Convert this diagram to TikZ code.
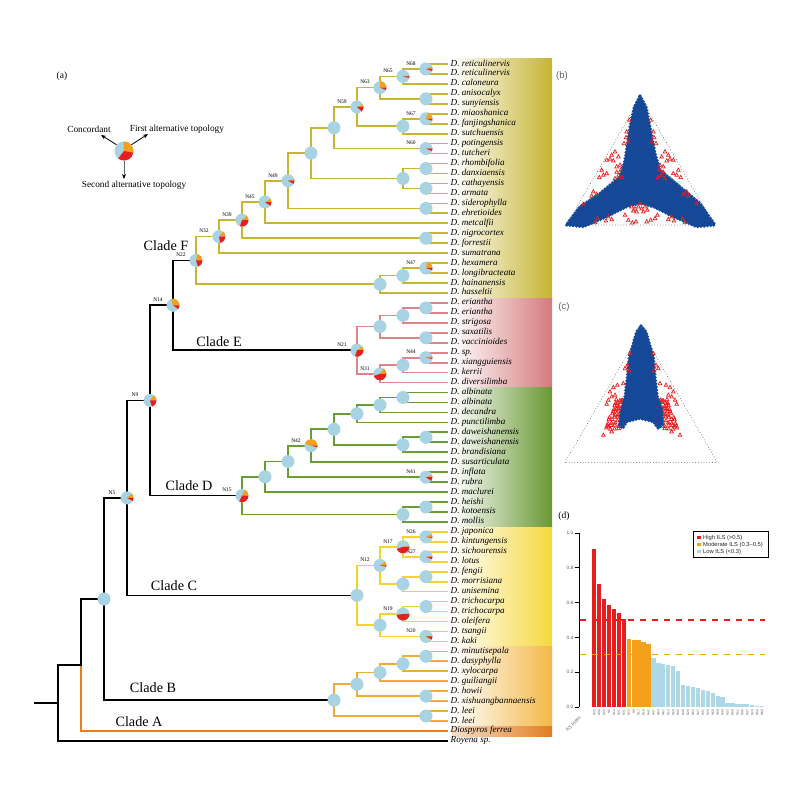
\documentclass[tikz,border=0pt]{standalone}
\usepackage{fontspec}
\setmainfont{Liberation Serif}
\setsansfont{Liberation Sans}
\usetikzlibrary{calc,arrows.meta}
\definecolor{cF}{RGB}{200,182,48}
\definecolor{cE}{RGB}{222,132,138}
\definecolor{cD}{RGB}{104,158,52}
\definecolor{cC}{RGB}{244,212,44}
\definecolor{cB}{RGB}{242,170,56}
\definecolor{cA}{RGB}{228,128,30}
\definecolor{bgF}{RGB}{198,180,50}
\definecolor{bgE}{RGB}{214,122,124}
\definecolor{bgD}{RGB}{104,152,50}
\definecolor{bgC}{RGB}{246,216,60}
\definecolor{bgB}{RGB}{243,184,72}
\definecolor{bgA}{RGB}{226,124,32}
\definecolor{lblue}{RGB}{168,211,226}
\definecolor{lbar}{RGB}{173,216,230}
\definecolor{porange}{RGB}{245,160,26}
\definecolor{pred}{RGB}{230,30,30}
\definecolor{tblue}{RGB}{22,72,152}
\newcommand\mknode[4]{%
  \coordinate (tmp) at ($(#3)!.5!(#4)$);
  \coordinate (#1) at ($(#2,0)!(tmp)!(#2,100)$);}
\begin{document}
\begin{tikzpicture}[x=1pt,y=-1pt,
  br/.style={line width=1.7pt, line cap=rect},
  dot/.style={circle, fill=lblue, minimum size=13pt, inner sep=0pt},
  tip/.style={anchor=west, inner xsep=3.5pt, inner ysep=1pt, font=\fontsize{9.1}{10}\selectfont\itshape, text height=6pt, text depth=2pt},
  nlab/.style={font=\fontsize{5.5}{6}\selectfont, inner sep=0pt},
  clade/.style={font=\fontsize{14.2}{16}\selectfont, inner sep=0pt},
  leg/.style={font=\fontsize{9.3}{11}\selectfont, inner sep=0pt},
  panel/.style={font=\fontsize{9.5}{11}\selectfont, inner sep=0pt},
  barlab/.style={font=\fontsize{3.2}{4}\selectfont\sffamily, text=gray!70!black, rotate=90, anchor=east, inner sep=0pt},
  axlab/.style={font=\fontsize{4.8}{6}\selectfont\sffamily, text=gray!70!black, anchor=east, inner sep=0pt},
  legt/.style={font=\fontsize{5.8}{7}\selectfont\sffamily, text=gray!30!black, anchor=west, inner sep=0pt},
  tri/.style={pred, line width=0.7pt},
  ardot/.style={gray!85!black, line width=1pt, dash pattern=on 0.01pt off 2.8pt, line cap=round}]
\useasboundingbox (0,0) rectangle (800,804);
% ---------- backgrounds of clades
\shade[left color=white, middle color=bgF!45, right color=bgF] (452,58.5) rectangle (552,298);
\shade[left color=white, middle color=bgE!60, right color=bgE] (452,298) rectangle (552,387.5);
\shade[left color=white, middle color=bgD!45, right color=bgD] (452,387.5) rectangle (552,527);
\shade[left color=white, middle color=bgC!45, right color=bgC] (452,527) rectangle (552,646.5);
\shade[left color=white, middle color=bgB!55, right color=bgB] (452,646.5) rectangle (552,726);
\shade[left color=bgA!25, right color=bgA] (452,726) rectangle (552,736);
% ---------- tips
\foreach \i/\nm in {1/D. reticulinervis,2/D. reticulinervis,3/D. caloneura,4/D. anisocalyx,5/D. sunyiensis,6/D. miaoshanica,7/D. fanjingshanica,8/D. sutchuensis,9/D. potingensis,10/D. tutcheri,11/D. rhombifolia,12/D. danxiaensis,13/D. cathayensis,14/D. armata,15/D. siderophylla,16/D. ehretioides,17/D. metcalfii,18/D. nigrocortex,19/D. forrestii,20/D. sumatrana,21/D. hexamera,22/D. longibracteata,23/D. hainanensis,24/D. hasseltii,25/D. eriantha,26/D. eriantha,27/D. strigosa,28/D. saxatilis,29/D. vaccinioides,30/D. sp.,31/D. xiangguiensis,32/D. kerrii,33/D. diversilimba,34/D. albinata,35/D. albinata,36/D. decandra,37/D. punctilimba,38/D. daweishanensis,39/D. daweishanensis,40/D. brandisiana,41/D. susarticulata,42/D. inflata,43/D. rubra,44/D. maclurei,45/D. heishi,46/D. kotoensis,47/D. mollis,48/D. japonica,49/D. kintungensis,50/D. sichourensis,51/D. lotus,52/D. fengii,53/D. morrisiana,54/D. unisemina,55/D. trichocarpa,56/D. trichocarpa,57/D. oleifera,58/D. tsangii,59/D. kaki,60/D. minutisepala,61/D. dasyphylla,62/D. xylocarpa,63/D. guiliangii,64/D. howii,65/D. xishuangbannaensis,66/D. leei,67/D. leei,68/Diospyros ferrea,69/Royena sp.}
  \node[tip] (t\i) at (447,{64+9.955*(\i-1)}) {\nm};
% ---------- internal nodes: clade F
\mknode{N68}{426}{t1}{t2}
\mknode{N65}{403}{N68}{t3}
\mknode{F1}{426}{t4}{t5}
\mknode{N63}{380}{N65}{F1}
\mknode{N67}{426}{t6}{t7}
\mknode{F2}{403}{N67}{t8}
\mknode{N59}{357}{N63}{F2}
\mknode{N60}{426}{t9}{t10}
\mknode{F3}{334}{N59}{N60}
\mknode{F4}{426}{t11}{t12}
\mknode{F5}{426}{t13}{t14}
\mknode{F6}{403}{F4}{F5}
\mknode{F7}{311}{F3}{F6}
\mknode{F8}{426}{t15}{t16}
\mknode{N49}{288}{F7}{F8}
\mknode{N45}{265}{N49}{t17}
\mknode{F9}{426}{t18}{t19}
\mknode{N39}{242}{N45}{F9}
\mknode{N32}{219}{N39}{t20}
\mknode{N47}{426}{t21}{t22}
\mknode{F10}{403}{N47}{t23}
\mknode{F11}{380}{F10}{t24}
\mknode{N22}{196}{N32}{F11}
% clade E
\mknode{E1}{426}{t25}{t26}
\mknode{E2}{403}{E1}{t27}
\mknode{E3}{426}{t28}{t29}
\mknode{E4}{380}{E2}{E3}
\mknode{N44}{426}{t30}{t31}
\mknode{E5}{403}{N44}{t32}
\mknode{N31}{380}{E5}{t33}
\mknode{N21}{357}{E4}{N31}
% clade D
\mknode{D1}{403}{t34}{t35}
\mknode{D2}{380}{D1}{t36}
\mknode{D3}{357}{D2}{t37}
\mknode{D4}{426}{t38}{t39}
\mknode{D5}{403}{D4}{t40}
\mknode{D6}{334}{D3}{D5}
\mknode{N42}{311}{D6}{t41}
\mknode{N41}{426}{t42}{t43}
\mknode{D7}{288}{N42}{N41}
\mknode{D8}{265}{D7}{t44}
\mknode{D9}{426}{t45}{t46}
\mknode{D10}{403}{D9}{t47}
\mknode{N15}{242}{D8}{D10}
% clade C
\mknode{N26}{426}{t48}{t49}
\mknode{N27}{426}{t50}{t51}
\mknode{N17}{403}{N26}{N27}
\mknode{C1}{426}{t52}{t53}
\mknode{C2}{403}{C1}{t54}
\mknode{N12}{380}{N17}{C2}
\mknode{C3}{426}{t55}{t56}
\mknode{N19}{403}{C3}{t57}
\mknode{N20}{426}{t58}{t59}
\mknode{C4}{380}{N19}{N20}
\mknode{C5}{357}{N12}{C4}
% clade B
\mknode{B1}{426}{t60}{t61}
\mknode{B2}{403}{B1}{t62}
\mknode{B3}{380}{B2}{t63}
\mknode{B4}{426}{t64}{t65}
\mknode{B5}{357}{B3}{B4}
\mknode{B6}{426}{t66}{t67}
\mknode{B7}{334}{B5}{B6}
% backbone
\mknode{N14}{173}{N22}{N21}
\mknode{N9}{150}{N14}{N15}
\mknode{N5}{127}{N9}{C5}
\mknode{K1}{104}{N5}{B7}
\mknode{K2}{81}{K1}{t68}
\mknode{K3}{58}{K2}{t69}
\coordinate (K0) at ($(K3)+(-23,0)$);
% ---------- branches
\foreach \p/\c in {N68/t1.west,N68/t2.west,N65/N68,N65/t3.west,F1/t4.west,F1/t5.west,N63/N65,N63/F1,N67/t6.west,N67/t7.west,F2/N67,F2/t8.west,N59/N63,N59/F2,N60/t9.west,N60/t10.west,F3/N59,F3/N60,F4/t11.west,F4/t12.west,F5/t13.west,F5/t14.west,F6/F4,F6/F5,F7/F3,F7/F6,F8/t15.west,F8/t16.west,N49/F7,N49/F8,N45/N49,N45/t17.west,F9/t18.west,F9/t19.west,N39/N45,N39/F9,N32/N39,N32/t20.west,N47/t21.west,N47/t22.west,F10/N47,F10/t23.west,F11/F10,F11/t24.west,N22/N32,N22/F11}
  \draw[br,cF] (\p) |- (\c);
\foreach \p/\c in {E1/t25.west,E1/t26.west,E2/E1,E2/t27.west,E3/t28.west,E3/t29.west,E4/E2,E4/E3,N44/t30.west,N44/t31.west,E5/N44,E5/t32.west,N31/E5,N31/t33.west,N21/E4,N21/N31}
  \draw[br,cE] (\p) |- (\c);
\foreach \p/\c in {D1/t34.west,D1/t35.west,D2/D1,D2/t36.west,D3/D2,D3/t37.west,D4/t38.west,D4/t39.west,D5/D4,D5/t40.west,D6/D3,D6/D5,N42/D6,N42/t41.west,N41/t42.west,N41/t43.west,D7/N42,D7/N41,D8/D7,D8/t44.west,D9/t45.west,D9/t46.west,D10/D9,D10/t47.west,N15/D8,N15/D10}
  \draw[br,cD] (\p) |- (\c);
\foreach \p/\c in {N26/t48.west,N26/t49.west,N27/t50.west,N27/t51.west,N17/N26,N17/N27,C1/t52.west,C1/t53.west,C2/C1,C2/t54.west,N12/N17,N12/C2,C3/t55.west,C3/t56.west,N19/C3,N19/t57.west,N20/t58.west,N20/t59.west,C4/N19,C4/N20,C5/N12,C5/C4}
  \draw[br,cC] (\p) |- (\c);
\foreach \p/\c in {B1/t60.west,B1/t61.west,B2/B1,B2/t62.west,B3/B2,B3/t63.west,B4/t64.west,B4/t65.west,B5/B3,B5/B4,B6/t66.west,B6/t67.west,B7/B5,B7/B6}
  \draw[br,cB] (\p) |- (\c);
\draw[br,cA] (K2) |- (t68.west);
\foreach \p/\c in {N14/N22,N14/N21,N9/N14,N9/N15,N5/N9,N5/C5,K1/N5,K1/B7,K2/K1,K3/K2,K3/t69.west}
  \draw[br,black] (\p) |- (\c);
\draw[br,black] (K0) -- (K3);
% ---------- plain node circles
\foreach \n in {F1,F2,F3,F4,F5,F6,F7,F8,F9,F10,F11,E1,E2,E3,E4,E5,D1,D2,D3,D4,D5,D6,D7,D8,D9,D10,C1,C2,C3,C4,C5,B1,B2,B3,B4,B5,B6,B7,K1}
  \node[dot] (d\n) at (\n) {};
% ---------- pie nodes (orange from 0 deg ccw, red ending at 360)
\foreach \n/\o/\r in {N68/0.06/0.05,N65/0.03/0.04,N63/0.25/0.06,N67/0.2/0.05,N60/0.02/0.06,N59/0.06/0.12,N49/0.04/0.08,N45/0.08/0.1,N39/0.12/0.3,N32/0.15/0.22,N22/0.22/0.2,N47/0.22/0.05,N14/0.3/0.1,N21/0.1/0.3,N44/0.04/0.03,N31/0.15/0.45,N9/0.15/0.2,N42/0.45/0.04,N41/0.05/0.1,N15/0.18/0.32,N5/0.12/0.08,N26/0.07/0.03,N27/0.02/0.06,N17/0.03/0.45,N12/0.1/0.03,N19/0.02/0.48,N20/0.02/0.08}{
  \node[dot] (p\n) at (\n) {};
  \fill[porange] (\n) -- ++(0:6.5pt) arc[start angle=0, end angle={\o*360}, radius=6.5pt] -- cycle;
  \fill[pred] (\n) -- ++({360-\r*360}:6.5pt) arc[start angle={360-\r*360}, end angle=360, radius=6.5pt] -- cycle;
  \node[nlab] (l\n) at ($(\n)+(-15,-5.5)$) {\n};
}
% ---------- clade labels
\node[clade] (clF) at (166,246) {Clade F};
\node[clade] (clE) at (219,342) {Clade E};
\node[clade] (clD) at (189,486) {Clade D};
\node[clade] (clC) at (174,586) {Clade C};
\node[clade] (clB) at (153,688) {Clade B};
\node[clade] (clA) at (139,722) {Clade A};
% ---------- panel (a) legend
\node[panel] (pa) at (62,76) {(a)};
\node[circle, minimum size=19pt, inner sep=0pt] (lpie) at (124,151) {};
\fill[lblue] (lpie.center) circle[radius=9.5pt];
\fill[porange] (lpie.center) -- ++(-10:9.5pt) arc[start angle=-10, end angle=95, radius=9.5pt] -- cycle;
\fill[pred] (lpie.center) -- ++(232:9.5pt) arc[start angle=232, end angle=350, radius=9.5pt] -- cycle;
\node[leg] (lgC) at (89,129) {Concordant};
\node[leg] (lgF) at (177,129) {First alternative topology};
\node[leg] (lgS) at (134,185) {Second alternative topology};
\coordinate (aC) at (101,135);
\coordinate (aF) at (148,134);
\coordinate (aS) at (124,179);
\draw[line width=0.8pt, -{Stealth[length=5pt,width=4pt]}] (lpie.140) -- (aC);
\draw[line width=0.8pt, -{Stealth[length=5pt,width=4pt]}] (lpie.40) -- (aF);
\draw[line width=0.8pt, gray!80!black, -{Stealth[length=5pt,width=4pt,black]}] (lpie.south) -- (aS);
% ---------- panel (b) ternary
\node[panel, font=\fontsize{9.5}{11}\selectfont\sffamily, text=gray!75!black] (pb) at (562,76) {(b)};
\begin{scope}[shift={(540,60)},scale=1/3]
  \draw[ardot] (80,495) -- (301,112) -- (522,495) -- cycle;
  \def\bpoly{(300,108) -- (318,140) -- (330,200) -- (345,280) -- (360,330) -- (420,380) -- (480,430) -- (525,495) -- (470,500) -- (400,470) -- (340,440) -- (300,430) -- (260,440) -- (200,470) -- (130,500) -- (78,495) -- (120,440) -- (180,400) -- (240,350) -- (255,300) -- (270,200) -- (283,140) -- cycle}
  \fill[tblue, rounded corners=3pt] \bpoly;
  \draw[tblue, line width=3.6pt, dash pattern=on 0pt off 3.2pt, line cap=round] \bpoly;
  \foreach \a/\b in {268/180,260/215,258/232,265/245,252/250,225/275,215/285,210/297,220/302,200/300,235/290,185/330,190/345,178/352,200/340,230/320,242/330,236/345,225/355,246/352,230/336,240/315,160/395,170/402,155/408,130/432,205/470,198/482,215/478,165/487,172/475,255/465,265/480,277/488,288/485,320/485,332/480,345/475,352/465,275/440,285/446,295/440,305/446,315/440,300/430,290/455,310/455,322/450,280/452,332/180,340/215,342/232,335/245,348/250,375/275,385/285,390/297,380/302,400/300,365/290,415/330,410/345,422/352,400/340,370/320,358/330,364/345,375/355,354/352,370/336,360/315,440/395,430/402,445/408,470/432,395/470,402/482,385/478,435/487,428/475}
    \draw[tri] ({\a},{\b-6}) -- ({\a+5.5},{\b+4}) -- ({\a-5.5},{\b+4}) -- cycle;
\end{scope}
% ---------- panel (c) ternary
\node[panel, font=\fontsize{9.5}{11}\selectfont\sffamily, text=gray!75!black] (pc) at (564,307) {(c)};
\begin{scope}[shift={(540,300)},scale=1/3]
  \draw[ardot] (75,487) -- (303,92) -- (532,487) -- cycle;
  \foreach \k in {0,...,10}{
    \foreach \j in {0,...,3}{
      \pgfmathsetmacro\xa{(232-3.4*\k)+\j*((248-\k)-(232-3.4*\k))/3+mod(\k*7+\j*5,6)-3}
      \pgfmathsetmacro\yb{300+8.5*\k+mod(\k*3+\j*4,5)-2}
      \draw[tri] ({\xa},{\yb-6}) -- ({\xa+5.5},{\yb+4}) -- ({\xa-5.5},{\yb+4}) -- cycle;
      \draw[tri] ({610-\xa},{\yb-6}) -- ({615.5-\xa},{\yb+4}) -- ({604.5-\xa},{\yb+4}) -- cycle;
    }
  }
  \def\cpoly{(303,78) -- (318,95) -- (328,130) -- (340,170) -- (345,230) -- (352,290) -- (365,330) -- (368,375) -- (355,385) -- (340,365) -- (300,355) -- (260,365) -- (248,385) -- (238,375) -- (245,330) -- (255,290) -- (262,230) -- (268,170) -- (280,130) -- (290,95) -- cycle}
  \fill[tblue, rounded corners=3pt] \cpoly;
  \draw[tblue, line width=3.6pt, dash pattern=on 0pt off 3.2pt, line cap=round] \cpoly;
  \foreach \a/\b in {270/160,262/195,255/205,268/212,250/250,232/255,220/262,210/275,215/290,205/300,200/312,225/285,190/405,215/395,205/380,340/160,348/195,355/205,342/212,360/250,378/255,390/262,400/275,395/290,405/300,410/312,385/285,420/405,395/395,405/380}
    \draw[tri] ({\a},{\b-6}) -- ({\a+5.5},{\b+4}) -- ({\a-5.5},{\b+4}) -- cycle;
\end{scope}
% ---------- panel (d) bar chart
\node[panel] (pd) at (564,516) {(d)};
\foreach \v/\c/\lab [count=\i] in {0.91/pred/N32,0.705/pred/N39,0.62/pred/N22,0.585/pred/N5,0.563/pred/N14,0.543/pred/N21,0.505/pred/N31,0.393/porange/N15,0.385/porange/N9,0.383/porange/N17,0.376/porange/N19,0.36/porange/N42,0.28/lbar/N47,0.253/lbar/N63,0.246/lbar/N67,0.24/lbar/N12,0.233/lbar/N59,0.205/lbar/N45,0.125/lbar/N49,0.122/lbar/N26,0.117/lbar/N65,0.11/lbar/N27,0.1/lbar/N41,0.093/lbar/N20,0.082/lbar/N60,0.065/lbar/N68,0.058/lbar/N44,0.025/lbar/N33,0.023/lbar/N50,0.02/lbar/N11,0.018/lbar/N40,0.015/lbar/N37,0.01/lbar/N24,0.008/lbar/N58,0.005/lbar/N66}{
  \fill[\c] ({592+(\i-1)*4.94},707) rectangle ({592+(\i-1)*4.94+4.3},{707-174*\v});
  \node[barlab] (bl\i) at ({592+(\i-1)*4.94+2.15},709.5) {\lab};
}
\draw[pred, line width=1.1pt, dash pattern=on 6pt off 6pt] (580,620) -- (765,620);
\draw[porange, line width=1.1pt, dash pattern=on 6pt off 6pt] (580,654.8) -- (765,654.8);
\draw[line width=0.8pt] (579,533) -- (579,707);
\foreach \t [count=\k from 0] in {0.0,0.2,0.4,0.6,0.8,1.0}{
  \draw[line width=0.8pt] (575,{707-34.8*\k}) -- (579,{707-34.8*\k});
  \node[axlab] (ax\k) at (573.5,{707-34.8*\k}) {\t};
}
\node[font=\fontsize{4.5}{5}\selectfont\sffamily, text=gray!70!black, rotate=45, anchor=east, inner sep=0pt] (ilsx) at (580,717) {ILS~Index};
\node[draw, line width=0.9pt, minimum width=75pt, minimum height=26pt, inner sep=0pt] (lgbox) at (730.5,544) {};
\fill[pred] (697,535.8) rectangle (700.5,539.3);
\fill[porange] (697,542.8) rectangle (700.5,546.3);
\fill[lbar] (697,549.8) rectangle (700.5,553.3);
\node[legt] (lg1) at (703,537.5) {High ILS (>0.5)};
\node[legt] (lg2) at (703,544.5) {Moderate ILS (0.3–0.5)};
\node[legt] (lg3) at (703,551.5) {Low ILS (<0.3)};
\end{tikzpicture}
\end{document}
